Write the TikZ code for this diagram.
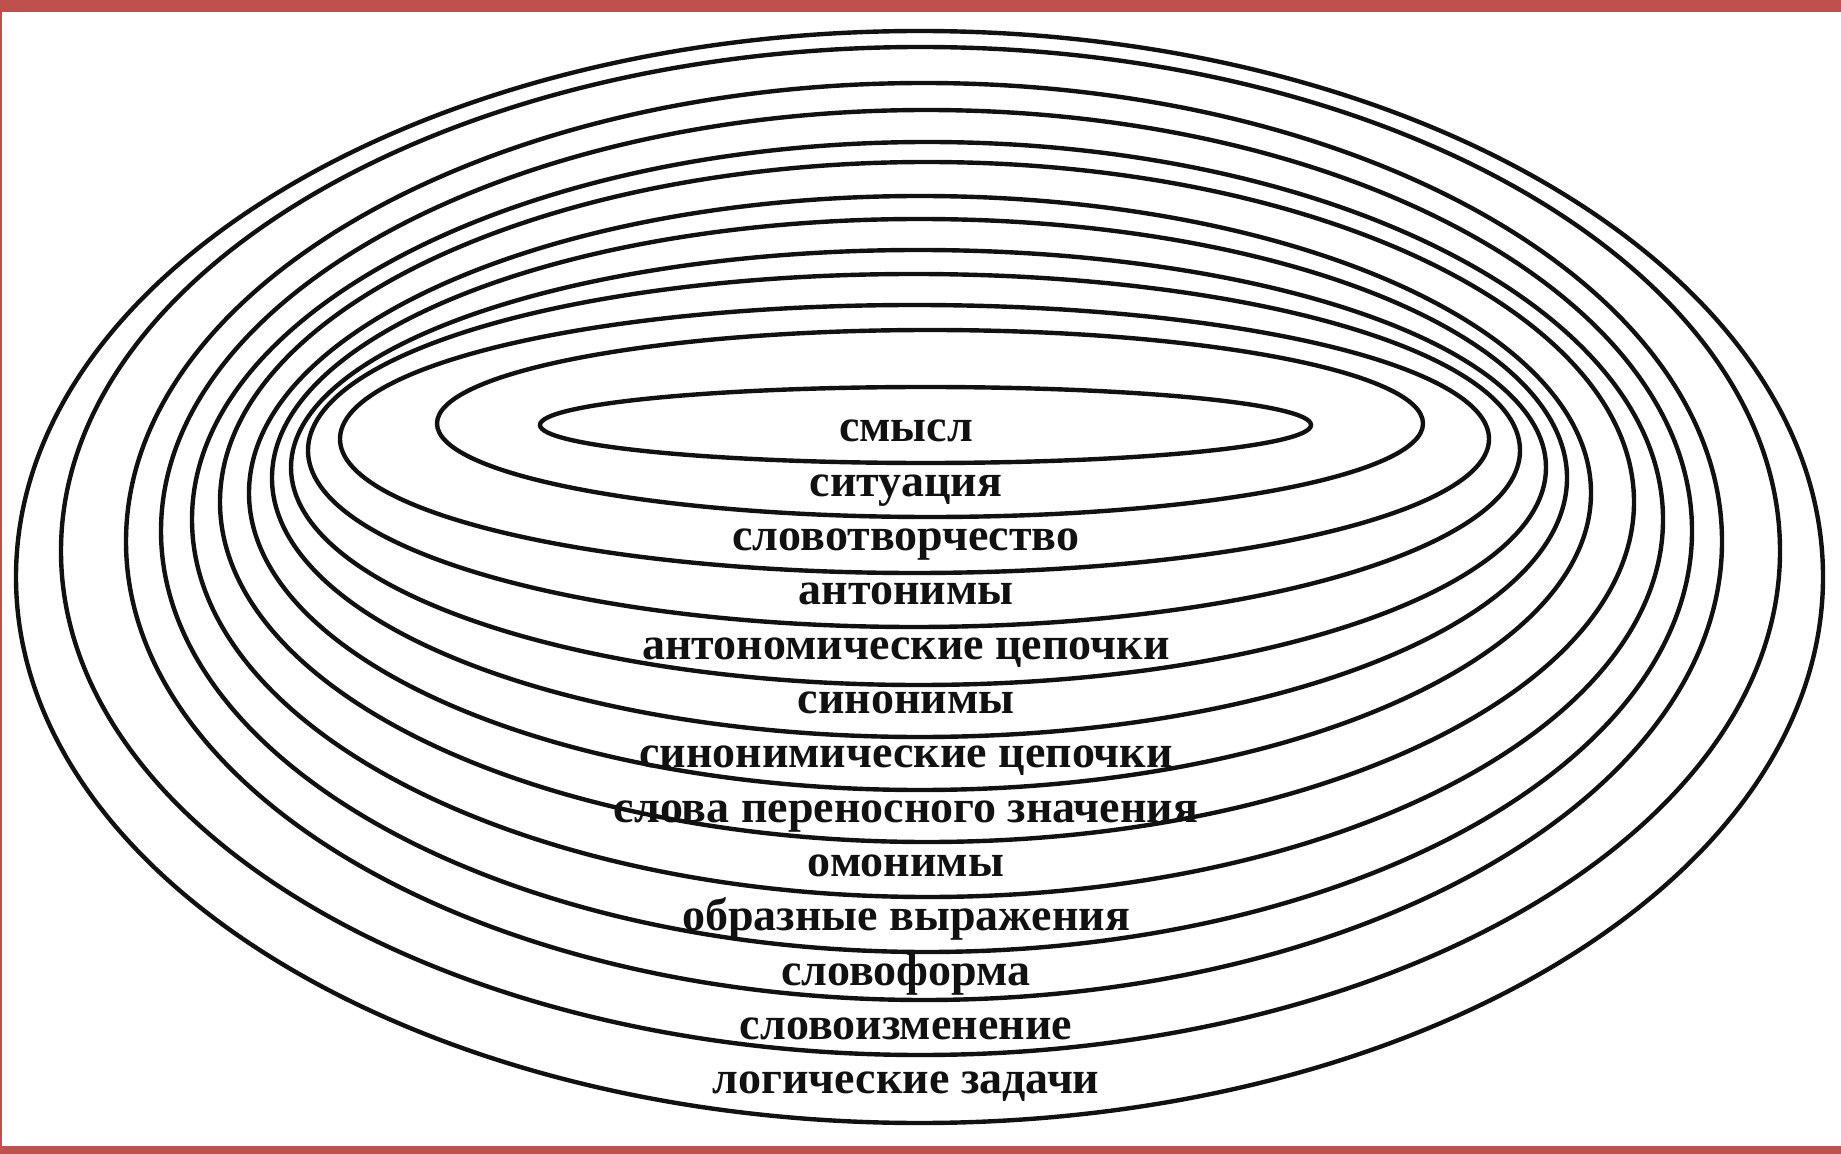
\documentclass[tikz,border=0pt]{standalone}
\usepackage{fontspec}
\setmainfont{Liberation Serif}
\usepackage{tikz}
\usetikzlibrary{positioning}
\usepackage{xcolor}
\definecolor{Band}{HTML}{C0504D}
\definecolor{Ink}{HTML}{111111}
\tikzset{
  bandbar/.style={fill=Band,draw=none},
  layerring/.style={draw=Ink,line width=2.2pt},
  layerlabel/.style={font=\bfseries\fontsize{23}{23}\selectfont,text=Ink,inner sep=0pt,text height=11pt,text depth=0pt}
}

\begin{document}
\begin{tikzpicture}[x=0.5pt,y=-0.5pt,node distance=15.75pt]
\useasboundingbox (0,0) rectangle (1841,1154);
\fill[bandbar] (0,0) rectangle (1841,12);
\fill[bandbar] (0,1146) rectangle (1841,1154);
\fill[bandbar] (0,0) rectangle (2,1154);
% rings, inner to outer
\draw[layerring] (925.5,425) ellipse [x radius=385.5, y radius=38];
\draw[layerring] (930,423.5) ellipse [x radius=493, y radius=93.5];
\draw[layerring] (914.5,439) ellipse [x radius=574.5, y radius=134];
\draw[layerring] (914,450.5) ellipse [x radius=606, y radius=176.5];
\draw[layerring] (918.5,467.5) ellipse [x radius=627.5, y radius=217.5];
\draw[layerring] (919.5,478) ellipse [x radius=647.5, y radius=259];
\draw[layerring] (920,493) ellipse [x radius=671, y radius=297];
\draw[layerring] (927,502) ellipse [x radius=707, y radius=340];
\draw[layerring] (927.5,519.5) ellipse [x radius=735.5, y radius=377.5];
\draw[layerring] (926.5,531) ellipse [x radius=765.5, y radius=421];
\draw[layerring] (924,541.5) ellipse [x radius=798, y radius=458.5];
\draw[layerring] (920.5,551) ellipse [x radius=859.5, y radius=504];
\draw[layerring] (919.5,577) ellipse [x radius=903.5, y radius=546];
% labels
\node[layerlabel] (smysl) at (906,431) {смысл};
\node[layerlabel,below=of smysl] (situaciya) {ситуация};
\node[layerlabel,below=of situaciya] (slovotv) {словотворчество};
\node[layerlabel,below=of slovotv] (antonimy) {антонимы};
\node[layerlabel,below=of antonimy] (antcep) {антономические цепочки};
\node[layerlabel,below=of antcep] (sinonimy) {синонимы};
\node[layerlabel,below=of sinonimy] (sincep) {синонимические цепочки};
\node[layerlabel,below=of sincep] (perenos) {слова переносного значения};
\node[layerlabel,below=of perenos] (omonimy) {омонимы};
\node[layerlabel,below=of omonimy] (obraz) {образные выражения};
\node[layerlabel,below=of obraz] (slovoforma) {словоформа};
\node[layerlabel,below=of slovoforma] (slovoizm) {словоизменение};
\node[layerlabel,below=of slovoizm] (logzad) {логические задачи};
\end{tikzpicture}
\end{document}
